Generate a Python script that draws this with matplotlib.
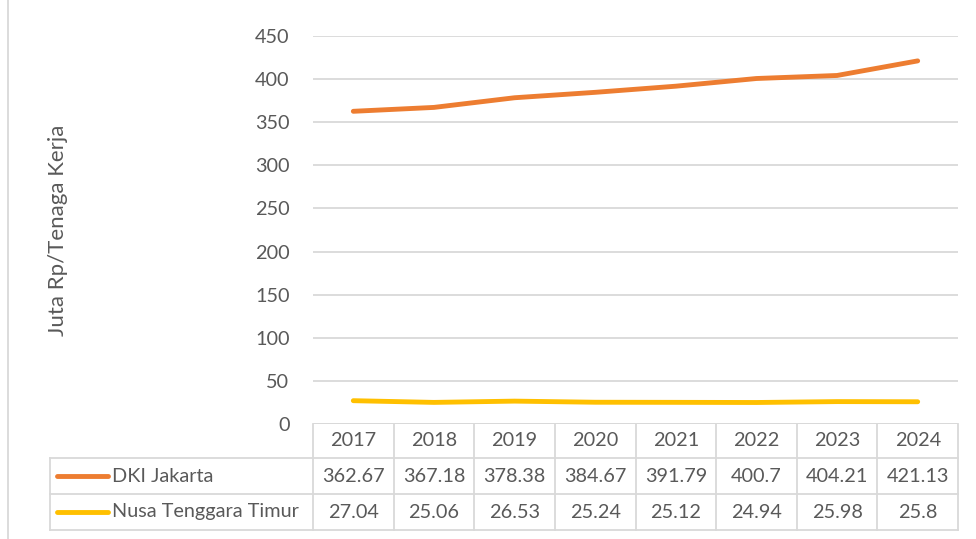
import matplotlib
matplotlib.use("Agg")
import matplotlib.pyplot as plt
from matplotlib.lines import Line2D

years = ["2017", "2018", "2019", "2020", "2021", "2022", "2023", "2024"]
series_names = ["DKI Jakarta", "Nusa Tenggara Timur"]
dki = [362.67, 367.18, 378.38, 384.67, 391.79, 400.7, 404.21, 421.13]
ntt = [27.04, 25.06, 26.53, 25.24, 25.12, 24.94, 25.98, 25.8]
dki_labels = ["362.67", "367.18", "378.38", "384.67", "391.79", "400.7", "404.21", "421.13"]
ntt_labels = ["27.04", "25.06", "26.53", "25.24", "25.12", "24.94", "25.98", "25.8"]
yticks = [0, 50, 100, 150, 200, 250, 300, 350, 400, 450]

colors = ["#ED7D31", "#FFC000"]
txt = "#595959"
grid = "#D9D9D9"
plt.rcParams['font.family'] = ['Lato', 'DejaVu Sans']
FS = 14.3

W, H = 976, 539
fig = plt.figure(figsize=(W/100, H/100), dpi=100)
L, R, T, B = 313, 958, 36, 424
ax = fig.add_axes([L/W, 1 - B/H, (R-L)/W, (B-T)/H])

x = list(range(len(years)))
ax.plot(x, dki, color=colors[0], lw=3.5, solid_capstyle='round', zorder=3)
ax.plot(x, ntt, color=colors[1], lw=3.5, solid_capstyle='round', zorder=3)
ax.set_xlim(-0.5, len(years) - 0.5)
ax.set_ylim(0, 450)
ax.set_yticks(yticks)
ax.set_yticklabels([str(v) for v in yticks], fontsize=FS, color=txt)
ax.set_xticks([])
ax.tick_params(axis='y', length=0, pad=17)
ax.grid(axis='y', color=grid, lw=1.3)
ax.set_axisbelow(True)
for s in ax.spines.values():
    s.set_visible(False)
ax.set_ylabel("Juta Rp/Tenaga Kerja", fontsize=16, color=txt, va='center')
ax.yaxis.set_label_coords((58 - L) / (R - L), 0.5)
ax.axhline(0, color=grid, lw=1.3, zorder=2)

# data table
tr = ax.get_xaxis_transform()
px = (B - T)
row_h = [34 / px, 36 / px, 36 / px]
y0 = 0
y1 = -row_h[0]
y2 = y1 - row_h[1]
y3 = y2 - row_h[2]
unit = (R - L) / len(years)
left_data = -0.5 - (L - 50) / unit
lkw = dict(color=grid, lw=1.3, clip_on=False, transform=tr)
for i in range(len(years) + 1):
    ax.add_line(Line2D([-0.5 + i, -0.5 + i], [y0, y3], **lkw))
ax.add_line(Line2D([left_data, left_data], [y1, y3], **lkw))
for yy in (y1, y2, y3):
    ax.add_line(Line2D([left_data, len(years) - 0.5], [yy, yy], **lkw))

for i, yr in enumerate(years):
    ax.text(i, (y0 + y1) / 2, yr, transform=tr, ha='center', va='center', fontsize=FS, color=txt)
    ax.text(i, (y1 + y2) / 2, dki_labels[i], transform=tr, ha='center', va='center', fontsize=FS, color=txt)
    ax.text(i, (y2 + y3) / 2, ntt_labels[i], transform=tr, ha='center', va='center', fontsize=FS, color=txt)

kx0 = left_data + 7 / unit
kx1 = left_data + 58 / unit
tx = left_data + 62 / unit
for j, (yc, name) in enumerate([((y1 + y2) / 2, series_names[0]), ((y2 + y3) / 2, series_names[1])]):
    ax.add_line(Line2D([kx0, kx1], [yc, yc], color=colors[j], lw=3.5, solid_capstyle='round', clip_on=False, transform=tr))
    ax.text(tx, yc, name, transform=tr, ha='left', va='center', fontsize=FS, color=txt)

fig.add_artist(Line2D([8/W, 8/W], [0, 1], color=grid, lw=1.3, transform=fig.transFigure))

fig.savefig("out.png", dpi=100, facecolor='white')
